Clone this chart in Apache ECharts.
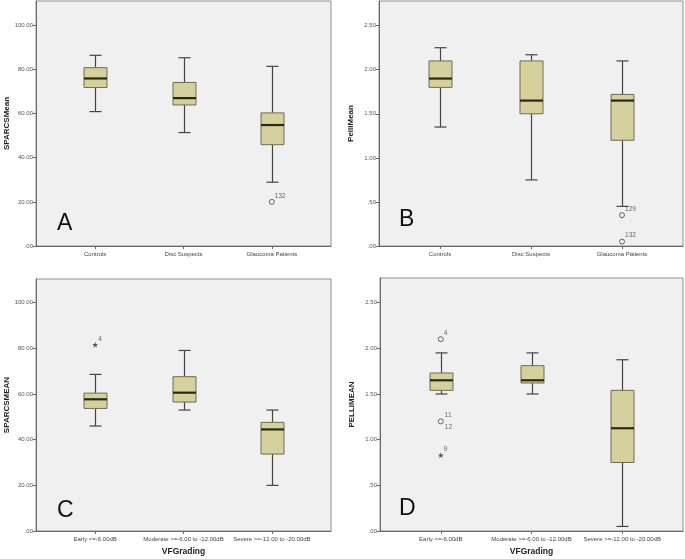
<!DOCTYPE html>
<html>
<head>
<meta charset="utf-8">
<script src="https://cdn.jsdelivr.net/npm/echarts@6/dist/echarts.min.js"></script>
<style>
html,body{margin:0;padding:0;background:#fff;}
#main{width:685px;height:559px;}
</style>
</head>
<body>
<div id="main"></div>
<script>
// Categories
const catsAB = ['Controls', 'Disc Suspects', 'Glaucoma Patients'];
const catsCD = ['Early <=-6.00dB', 'Moderate >=-6.00 to -12.00dB', 'Severe >=-12.00 to -20.00dB'];

// Box stats: [min whisker, Q1, median, Q3, max whisker]
const boxA = [[60.9, 71.8, 75.9, 80.8, 86.4], [51.4, 63.9, 67.0, 74.1, 85.3], [28.9, 45.9, 54.8, 60.3, 81.4]];
const boxB = [[1.35, 1.80, 1.90, 2.10, 2.25], [0.75, 1.50, 1.65, 2.10, 2.17], [0.45, 1.20, 1.65, 1.72, 2.10]];
const boxC = [[46.0, 53.7, 57.7, 60.4, 68.6], [53.0, 56.5, 60.6, 67.6, 79.1], [20.0, 33.7, 44.5, 47.6, 53.0]];
const boxD = [[1.50, 1.54, 1.65, 1.73, 1.95], [1.50, 1.62, 1.65, 1.81, 1.95], [0.05, 0.75, 1.125, 1.54, 1.875]];

// Outliers: [category index, value, case label, kind ('o' circle, '*' extreme)]
const outA = [[2, 20.0, '132', 'o']];
const outB = [[2, 0.35, '129', 'o'], [2, 0.05, '132', 'o']];
const outC = [[0, 81.6, '4', '*']];
const outD = [[0, 2.10, '4', 'o'], [0, 1.20, '11\n12', 'o'], [0, 0.83, '9', '*']];

// Axis settings
const yMaxes = [111, 2.78, 110.4, 2.77];
const yIntervals = [20, 0.5, 20, 0.5];
const yNames = ['SPARCSMean', 'PelliMean', 'SPARCSMEAN', 'PELLIMEAN'];
const xNames = ['', '', 'VFGrading', 'VFGrading'];
const panelLetters = ['A', 'B', 'C', 'D'];
const catPositions = [0, 1, 2];

const grids = [
  {left: 36, top: 1, width: 295, height: 245},
  {left: 379, top: 1, width: 304, height: 245},
  {left: 36, top: 279, width: 295, height: 252},
  {left: 380, top: 278, width: 303, height: 253}
];
const letterPos = [[57, 212], [399, 208], [57, 499], [399, 497]];

const boxes = [boxA, boxB, boxC, boxD];
const outs = [outA, outB, outC, outD];
const cats = [catsAB, catsAB, catsCD, catsCD];

function fmt(v) {
  let s = v.toFixed(2);
  if (s.startsWith('0.')) s = s.slice(1);
  return s;
}

function renderBox(params, api) {
  const c = api.value(0);
  const p = i => api.coord([c, api.value(i)]);
  const pMin = p(1), pQ1 = p(2), pMed = p(3), pQ3 = p(4), pMax = p(5);
  const x = Math.round(pMin[0]) + 0.5;
  const bw = 23, cw = 12;
  const ws = {stroke: '#444', lineWidth: 1.2};
  return {
    type: 'group',
    children: [
      {type: 'line', shape: {x1: x, y1: pMax[1], x2: x, y2: pQ3[1]}, style: ws},
      {type: 'line', shape: {x1: x, y1: pQ1[1], x2: x, y2: pMin[1]}, style: ws},
      {type: 'line', shape: {x1: x - cw / 2, y1: pMax[1], x2: x + cw / 2, y2: pMax[1]}, style: ws},
      {type: 'line', shape: {x1: x - cw / 2, y1: pMin[1], x2: x + cw / 2, y2: pMin[1]}, style: ws},
      {type: 'rect', shape: {x: x - bw / 2, y: pQ3[1], width: bw, height: pQ1[1] - pQ3[1]},
        style: {fill: '#d5d09c', stroke: '#6e6c52', lineWidth: 1}},
      {type: 'line', shape: {x1: x - bw / 2, y1: pMed[1], x2: x + bw / 2, y2: pMed[1]},
        style: {stroke: '#2a2918', lineWidth: 2.2}}
    ]
  };
}

const starPath = 'path://M50,0 L61,35 L98,35 L68,57 L79,91 L50,70 L21,91 L32,57 L2,35 L39,35 Z';

const option = {
  animation: false,
  backgroundColor: '#ffffff',
  textStyle: {fontFamily: 'Liberation Sans, Arial, sans-serif'},
  grid: grids.map(g => Object.assign({show: true, backgroundColor: '#f0f0f0', borderColor: '#8f8f8f', borderWidth: 1}, g)),
  xAxis: cats.map((c, i) => ({
    type: 'value', gridIndex: i, min: -0.67, max: 2.67,
    name: xNames[i], nameLocation: 'middle', nameGap: 16,
    nameTextStyle: {fontSize: 8.5, fontWeight: 'bold', color: '#222'},
    axisLine: {show: true, onZero: false, lineStyle: {color: '#6a6a6a'}},
    axisTick: {show: true, length: 3, customValues: catPositions, lineStyle: {color: '#6a6a6a'}},
    axisLabel: {fontSize: 6, color: '#444', margin: 5, customValues: catPositions,
      formatter: v => c[Math.round(v)]},
    splitLine: {show: false}
  })),
  yAxis: yMaxes.map((m, i) => ({
    type: 'value', gridIndex: i, min: 0, max: m, interval: yIntervals[i],
    name: yNames[i], nameLocation: 'middle', nameGap: 24,
    nameTextStyle: {fontSize: 8, fontWeight: 'bold', color: '#222'},
    axisLine: {show: true, onZero: false, lineStyle: {color: '#6a6a6a'}},
    axisTick: {show: true, length: 3, lineStyle: {color: '#6a6a6a'}},
    axisLabel: {fontSize: 6, color: '#555', margin: 3, formatter: fmt, showMaxLabel: false},
    splitLine: {show: false}
  })),
  graphic: panelLetters.map((t, i) => ({
    type: 'text', left: letterPos[i][0], top: letterPos[i][1],
    style: {text: t, fontSize: 23, fill: '#111', fontFamily: 'Liberation Sans, Arial, sans-serif'}
  })),
  series: []
};

boxes.forEach((b, i) => {
  option.series.push({
    type: 'custom', xAxisIndex: i, yAxisIndex: i,
    renderItem: renderBox,
    encode: {x: 0, y: [1, 2, 3, 4, 5]},
    data: b.map((v, k) => [k].concat(v))
  });
});

outs.forEach((o, i) => {
  option.series.push({
    type: 'scatter', xAxisIndex: i, yAxisIndex: i,
    z: 5,
    data: o.map(d => ({
      value: [d[0], d[1]],
      symbol: d[3] === '*' ? starPath : 'circle',
      symbolSize: d[3] === '*' ? 6 : 5,
      itemStyle: d[3] === '*'
        ? {color: '#333'}
        : {color: 'transparent', borderColor: '#444', borderWidth: 1},
      label: {
        show: true, formatter: d[2], position: 'right',
        offset: d[2].indexOf('\n') >= 0 ? [-4, 0] : [-5, -6],
        fontSize: 6.5, color: '#444', lineHeight: 12
      }
    }))
  });
});

const chart = echarts.init(document.getElementById('main'), null, {renderer: 'canvas'});
chart.setOption(option);
</script>
</body>
</html>
